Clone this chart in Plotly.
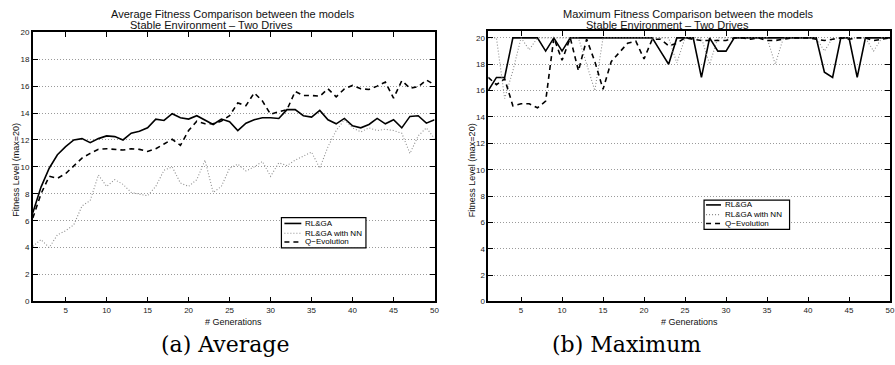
import plotly.graph_objects as go

generations = list(range(1, 51))

# (a) Average fitness
avg_rlga = [6.6, 8.5, 9.9, 10.9, 11.5, 12.0, 12.1, 11.8, 12.1, 12.3,
            12.25, 12.0, 12.5, 12.65, 12.9, 13.55, 13.45, 13.95, 13.65, 13.55,
            13.8, 13.5, 13.15, 13.55, 13.35, 12.7, 13.25, 13.5, 13.65, 13.65,
            13.6, 14.25, 14.25, 13.8, 13.7, 14.2, 13.5, 13.2, 13.6, 13.05,
            12.9, 13.15, 13.6, 13.2, 13.5, 12.9, 13.75, 13.8, 13.25, 13.5]
avg_rlga_nn = [4.1, 4.6, 4.0, 4.95, 5.25, 5.7, 7.1, 7.5, 9.4, 8.55,
               9.05, 8.7, 8.1, 8.0, 7.85, 8.55, 9.75, 10.0, 8.8, 8.55,
               9.05, 10.5, 8.1, 8.55, 9.9, 10.2, 9.7, 10.0, 10.4, 9.3,
               10.3, 10.1, 10.5, 10.8, 11.1, 9.9, 11.5, 12.7, 13.5, 12.9,
               12.6, 12.9, 12.7, 12.8, 12.7, 12.5, 11.0, 12.3, 12.9, 12.1]
avg_qevo = [6.2, 8.0, 9.3, 9.15, 9.5, 10.05, 10.65, 11.0, 11.3, 11.35,
            11.3, 11.25, 11.35, 11.3, 11.15, 11.35, 11.7, 12.05, 11.6, 12.7,
            13.4, 13.2, 13.2, 13.4, 13.8, 14.75, 14.55, 15.5, 14.9, 13.9,
            14.1, 14.25, 15.6, 15.3, 15.3, 15.25, 15.8, 15.2, 15.8, 16.05,
            15.8, 15.75, 16.0, 16.3, 15.1, 16.4, 15.85, 15.95, 16.45, 16.1]

# (b) Maximum fitness
max_rlga = [16.0, 17.0, 17.0, 20.0, 20.0, 20.0, 20.0, 19.0, 20.0, 19.0,
            20.0, 20.0, 20.0, 20.0, 20.0, 20.0, 20.0, 20.0, 20.0, 20.0,
            20.0, 19.0, 18.0, 20.0, 20.0, 20.0, 17.0, 20.0, 19.0, 19.0,
            20.0, 20.0, 20.0, 20.0, 20.0, 20.0, 20.0, 20.0, 20.0, 20.0,
            20.0, 17.4, 17.0, 20.0, 20.0, 17.0, 20.0, 20.0, 20.0, 20.0]
max_rlga_nn = [20.0, 20.0, 15.4, 17.5, 20.0, 19.1, 20.0, 20.0, 20.0, 20.0,
               20.0, 20.0, 18.0, 16.0, 20.0, 20.0, 20.0, 20.0, 20.0, 20.0,
               20.0, 20.0, 20.0, 18.1, 20.0, 20.0, 20.0, 18.0, 20.0, 20.0,
               20.0, 20.0, 20.0, 20.0, 20.0, 18.0, 20.0, 20.0, 20.0, 20.0,
               20.0, 19.0, 20.0, 20.0, 20.0, 20.0, 20.0, 19.0, 20.0, 20.0]
max_qevo = [17.0, 16.45, 16.9, 14.85, 15.0, 15.0, 14.7, 15.2, 20.0, 18.3,
            20.0, 17.5, 19.9, 18.2, 16.1, 18.2, 18.9, 19.6, 19.75, 18.4,
            19.9, 19.9, 19.4, 19.6, 20.0, 19.9, 19.8, 19.8, 19.8, 19.8,
            20.0, 20.0, 19.9, 20.0, 19.8, 19.8, 19.9, 20.0, 20.0, 20.0,
            19.9, 19.8, 19.9, 20.0, 19.9, 20.0, 20.0, 19.8, 19.9, 20.0]

series_names = ["RL&GA", "RL&GA with NN", "Q\u2212Evolution"]
x_ticks = [5, 10, 15, 20, 25, 30, 35, 40, 45, 50]
y_ticks = list(range(0, 21, 2))

W, H = 895, 365
SANS = "Liberation Sans, Arial, sans-serif"
SERIF = "DejaVu Serif, serif"

styles = [dict(color="black", width=1.6, dash="solid"),
          dict(color="#8c8c8c", width=1.1, dash="1px,2px"),
          dict(color="black", width=1.6, dash="5px,4px")]

fig = go.Figure()
for i, (ys, st) in enumerate(zip([avg_rlga, avg_rlga_nn, avg_qevo], styles)):
    fig.add_trace(go.Scatter(x=generations, y=ys, mode="lines", name=series_names[i],
                             line=st, xaxis="x", yaxis="y", showlegend=False))
for i, (ys, st) in enumerate(zip([max_rlga, max_rlga_nn, max_qevo], styles)):
    fig.add_trace(go.Scatter(x=generations, y=ys, mode="lines", name=series_names[i],
                             line=st, xaxis="x2", yaxis="y2", showlegend=False))

def px(x):
    return x / W

def py(y):
    return (H - y) / H

axis_common = dict(showline=True, linecolor="black", linewidth=1.5, mirror="ticks",
                   ticks="inside", ticklen=5, tickcolor="black", tickwidth=1,
                   tickfont=dict(family=SANS, size=8, color="#222"), zeroline=False)
grid = dict(showgrid=True, gridcolor="#9a9a9a", griddash="1px,2px", gridwidth=1)

fig.update_layout(
    width=W, height=H, margin=dict(l=0, r=0, t=0, b=0),
    paper_bgcolor="white", plot_bgcolor="white",
    xaxis=dict(domain=[px(33), px(437)], range=[1, 50], tickvals=x_ticks,
               showgrid=False, anchor="y", **axis_common),
    yaxis=dict(domain=[py(305), py(29)], range=[0, 20], tickvals=y_ticks,
               anchor="x", **grid, **axis_common),
    xaxis2=dict(domain=[px(491), 1.0], range=[1, 50], tickvals=x_ticks,
                showgrid=False, anchor="y2", **axis_common),
    yaxis2=dict(domain=[py(305), py(28)], range=[0, 20.5], tickvals=y_ticks,
                anchor="x2", **grid, **axis_common),
    showlegend=False,
)

ann = []
shapes = []

def text(x, y, s, size, family=SANS, angle=0, color="#111", anchor="center"):
    ann.append(dict(x=px(x), y=py(y), xref="paper", yref="paper", text=s,
                    showarrow=False, xanchor=anchor, yanchor="middle",
                    font=dict(family=family, size=size, color=color), textangle=angle))

def legend_box(x0, y0, x1, y1, rows, sx0, sx1, tx):
    shapes.append(dict(type="rect", xref="paper", yref="paper",
                       x0=px(x0), x1=px(x1), y0=py(y1), y1=py(y0),
                       line=dict(color="black", width=1.2), fillcolor="white", layer="above"))
    for name, st, ry in zip(series_names, styles, rows):
        shapes.append(dict(type="line", xref="paper", yref="paper",
                           x0=px(sx0), x1=px(sx1), y0=py(ry), y1=py(ry),
                           line=st, layer="above"))
        text(tx, ry, name, 8, color="black", anchor="left")

text(234, 10, "Average Fitness Comparison between the models", 11)
text(213, 22, "Stable Environment \u2013 Two Drives", 11)
text(692, 10, "Maximum Fitness Comparison between the models", 11)
text(671, 22, "Stable Environment \u2013 Two Drives", 11)
text(235, 326, "# Generations", 9)
text(693, 326, "# Generations", 9)
text(16, 170, "Fitness Level (max=20)", 9, angle=-90)
text(474, 170, "Fitness Level (max=20)", 9, angle=-90)
text(226, 349, "(a) Average", 22, family=SERIF, color="black")
text(630, 349, "(b) Maximum", 22, family=SERIF, color="black")

legend_box(283, 219, 368, 250, [225, 235, 244], 286, 303, 305)
legend_box(708, 201, 794, 231, [206, 216, 225], 710, 725, 727)

fig.update_layout(annotations=ann, shapes=shapes)

fig.write_html("out.html")
